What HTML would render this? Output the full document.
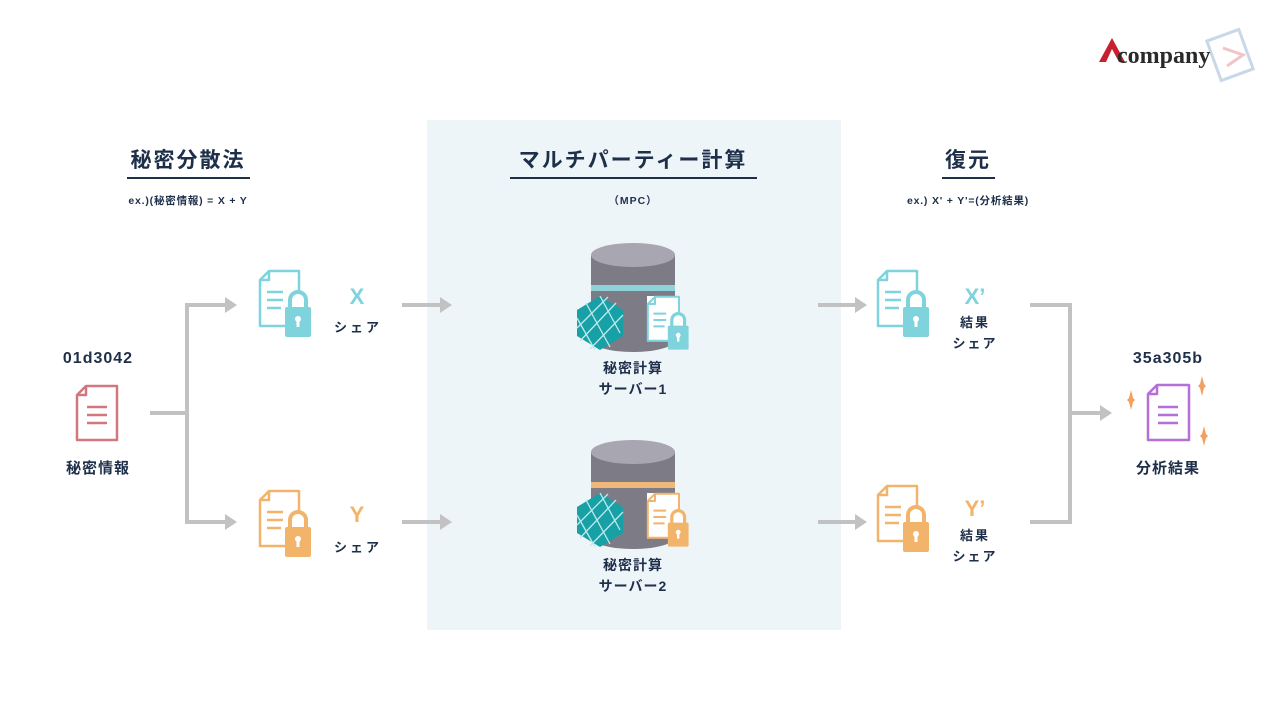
<!DOCTYPE html>
<html><head><meta charset="utf-8"><style>
html,body{margin:0;padding:0;background:#fff;}
svg{display:block;}
text{font-family:"Liberation Sans","Noto Sans CJK JP",sans-serif;fill:#1e2f4a;font-weight:bold;}
</style></head><body>
<svg width="1280" height="720" viewBox="0 0 1280 720" xmlns="http://www.w3.org/2000/svg">
<defs>
<g id="doclock">
  <path d="M10 1 H40 V56 H1 V10 Z M1 10 H10 V1" fill="none" stroke-width="2.5" stroke-linejoin="round"/>
  <path d="M8 22 H24 M8 30 H24 M8 38 H22" stroke-width="2.5" fill="none"/>
  <path d="M31 38 V30 a8 8 0 0 1 16 0 V38" fill="#fff" stroke-width="4"/>
  <rect x="26" y="37" width="26" height="30" rx="2" stroke="none"/>
  <circle cx="39" cy="49" r="3" fill="#fff" stroke="none"/>
  <rect x="37.5" y="50" width="3" height="7" fill="#fff" stroke="none"/>
</g>
<g id="server">
  <rect x="-42" y="0" width="84" height="85" fill="#7d7b86"/>
  <ellipse cx="0" cy="85" rx="42" ry="12" fill="#7d7b86"/>
  <rect x="-42" y="30" width="84" height="6" fill="#8f8d98"/>
  <ellipse cx="0" cy="0" rx="42" ry="12" fill="#a8a6b0"/>
</g>
<g id="hex">
  <polygon points="0,-27 23,-13 23,13 0,27 -23,13 -23,-13" fill="#17a0a6"/>
  <path d="M-14,-20 L10,24 M0,-27 L20,10 M-23,-5 L-5,27 M-20,18 L16,-20 M-23,5 L8,-26 M-10,26 L23,-8" stroke="#bfeaec" stroke-width="1.3" fill="none"/>
</g>
<marker id="ar" markerWidth="3" markerHeight="4" refX="1" refY="2" orient="auto" markerUnits="strokeWidth"><path d="M0,0 L3,2 L0,4 Z" fill="#c2c2c2"/></marker>
</defs>

<rect x="427" y="120" width="414" height="510" fill="#eef5f8"/>

<!-- logo -->
<g transform="translate(1230,55) rotate(-20)" fill="none" stroke="#c8d8e8" stroke-width="3"><rect x="-17" y="-21" width="34" height="42"/></g>
<path d="M1223 48 L1243 55 L1227 66" fill="none" stroke="#f2c4c8" stroke-width="3"/>
<path d="M1099 62 L1112 38 L1125 62 L1119 62 L1112 49 L1106 62 Z" fill="#c8202e"/>
<text x="1117" y="63" style="font-family:'Liberation Serif',serif;fill:#2a2a2a" font-size="24">company</text>

<!-- titles -->
<text x="188" y="167" font-size="21" text-anchor="middle" letter-spacing="2">秘密分散法</text>
<line x1="127" y1="178" x2="250" y2="178" stroke="#1e2f4a" stroke-width="2"/>
<text x="188" y="204" font-size="10.5" text-anchor="middle" letter-spacing="0.8">ex.)(秘密情報) = X + Y</text>

<text x="633" y="167" font-size="21" text-anchor="middle" letter-spacing="2">マルチパーティー計算</text>
<line x1="510" y1="178" x2="757" y2="178" stroke="#1e2f4a" stroke-width="2"/>
<text x="633" y="204" font-size="10.5" text-anchor="middle" letter-spacing="1">（MPC）</text>

<text x="968" y="167" font-size="21" text-anchor="middle" letter-spacing="2">復元</text>
<line x1="942" y1="178" x2="995" y2="178" stroke="#1e2f4a" stroke-width="2"/>
<text x="968" y="204" font-size="10.5" text-anchor="middle" letter-spacing="0.8">ex.) X' + Y'=(分析結果)</text>

<!-- left -->
<text x="98" y="363" font-size="16" text-anchor="middle" letter-spacing="1">01d3042</text>
<g transform="translate(76,385)" fill="none" stroke="#d0787e" stroke-width="2.5" stroke-linejoin="round">
  <path d="M10 1 H41 V55 H1 V10 Z M1 10 H10 V1"/>
  <path d="M11 22 H31 M11 30 H31 M11 38 H31"/>
</g>
<text x="98" y="473" font-size="15" text-anchor="middle" letter-spacing="1">秘密情報</text>

<g stroke="#c2c2c2" stroke-width="4" fill="none">
  <path d="M150 413 H187 M187 305 V522"/>
  <path d="M185 305 H229" marker-end="url(#ar)"/>
  <path d="M185 522 H229" marker-end="url(#ar)"/>
  <path d="M402 305 H444" marker-end="url(#ar)"/>
  <path d="M402 522 H444" marker-end="url(#ar)"/>
  <path d="M818 305 H859" marker-end="url(#ar)"/>
  <path d="M818 522 H859" marker-end="url(#ar)"/>
  <path d="M1030 305 H1070 V522 H1030"/>
  <path d="M1068 413 H1104" marker-end="url(#ar)"/>
</g>

<!-- shares -->
<use href="#doclock" x="259" y="270" fill="#7fd3dc" stroke="#7fd3dc"/>
<text x="357" y="304" font-size="22" text-anchor="middle" style="fill:#7fd3dc">X</text>
<text x="358" y="332" font-size="13" text-anchor="middle" letter-spacing="3">シェア</text>
<use href="#doclock" x="259" y="490" fill="#f2b46a" stroke="#f2b46a"/>
<text x="357" y="522" font-size="22" text-anchor="middle" style="fill:#f2b46a">Y</text>
<text x="358" y="552" font-size="13" text-anchor="middle" letter-spacing="3">シェア</text>

<!-- servers -->
<use href="#server" x="633" y="255"/>
<rect x="591" y="285" width="84" height="6" fill="#8fd2d8"/>
<use href="#hex" x="600" y="323"/>
<g transform="translate(647,296) scale(0.8)"><rect x="0" y="0" width="41" height="57" fill="#fff"/><use href="#doclock" fill="#7fd3dc" stroke="#7fd3dc"/></g>
<text x="633" y="373" font-size="14" text-anchor="middle" letter-spacing="1">秘密計算</text>
<text x="633" y="394" font-size="14" text-anchor="middle" letter-spacing="1">サーバー1</text>

<use href="#server" x="633" y="452"/>
<rect x="591" y="482" width="84" height="6" fill="#f0b77a"/>
<use href="#hex" x="600" y="520"/>
<g transform="translate(647,493) scale(0.8)"><rect x="0" y="0" width="41" height="57" fill="#fff"/><use href="#doclock" fill="#f2b46a" stroke="#f2b46a"/></g>
<text x="633" y="570" font-size="14" text-anchor="middle" letter-spacing="1">秘密計算</text>
<text x="633" y="591" font-size="14" text-anchor="middle" letter-spacing="1">サーバー2</text>

<!-- results -->
<use href="#doclock" x="877" y="270" fill="#7fd3dc" stroke="#7fd3dc"/>
<text x="975" y="304" font-size="22" text-anchor="middle" style="fill:#7fd3dc">X’</text>
<text x="975" y="327" font-size="13" text-anchor="middle" letter-spacing="2">結果</text>
<text x="975" y="348" font-size="13" text-anchor="middle" letter-spacing="2">シェア</text>
<use href="#doclock" x="877" y="485" fill="#f2b46a" stroke="#f2b46a"/>
<text x="975" y="516" font-size="22" text-anchor="middle" style="fill:#f2b46a">Y’</text>
<text x="975" y="540" font-size="13" text-anchor="middle" letter-spacing="2">結果</text>
<text x="975" y="561" font-size="13" text-anchor="middle" letter-spacing="2">シェア</text>

<!-- output -->
<text x="1168" y="363" font-size="16" text-anchor="middle" letter-spacing="1">35a305b</text>
<g transform="translate(1147,384)" fill="none" stroke="#b46fd8" stroke-width="2.5" stroke-linejoin="round">
  <path d="M10 1 H42 V56 H1 V10 Z M1 10 H10 V1"/>
  <path d="M11 23 H31 M11 31 H31 M11 39 H31"/>
</g>
<g fill="#f2a060">
  <path d="M1131 390 l2 8 l2 2 l-2 2 l-2 8 l-2 -8 l-2 -2 l2 -2 z"/>
  <path d="M1202 376 l2 8 l2 2 l-2 2 l-2 8 l-2 -8 l-2 -2 l2 -2 z"/>
  <path d="M1204 426 l2 8 l2 2 l-2 2 l-2 8 l-2 -8 l-2 -2 l2 -2 z"/>
</g>
<text x="1168" y="473" font-size="15" text-anchor="middle" letter-spacing="1">分析結果</text>
</svg>
</body></html>
